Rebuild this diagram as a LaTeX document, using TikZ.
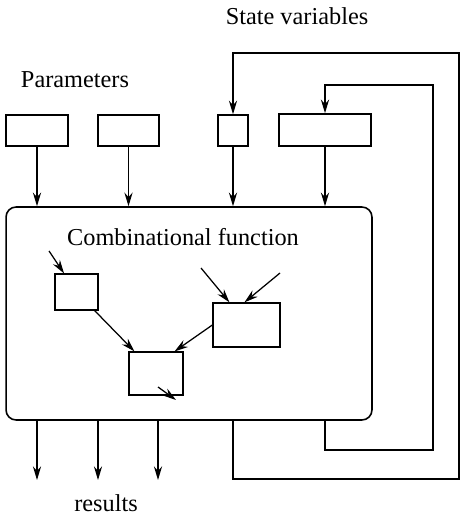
\documentclass[tikz,border=0pt]{standalone}
\usepackage{fontspec}
\setmainfont{Liberation Serif}
\usepackage{tikz}
\usetikzlibrary{arrows.meta, positioning}

\tikzset{
    blk/.style={rectangle, draw, line width=0.7pt, inner sep=0pt},
    wire/.style={line width=0.55pt},
    lbl/.style={font=\fontsize{10.7}{13}\selectfont},
    >={Stealth[length=6pt, width=3.6pt, inset=2pt]}
}

\begin{document}
\begin{tikzpicture}[x=0.44pt, y=-0.44pt]
    \useasboundingbox (0,0) rectangle (460,516);

    % Labels
    \node[lbl] (lstate) at (297,16) {State variables};
    \node[lbl] (lparam) at (75,80) {Parameters};
    \node[lbl] (lres) at (106,503) {results};

    % Parameter and state boxes
    \node[blk, minimum width=27.3pt, minimum height=13.6pt] (p1) at (37,130.5) {};
    \node[blk, minimum width=26.8pt, minimum height=13.6pt] (p2) at (128.5,130.5) {};
    \node[blk, minimum width=13.2pt, minimum height=13.6pt] (s1) at (233,130.5) {};
    \node[blk, minimum width=40.5pt, minimum height=14.1pt] (s2) at (325,130) {};

    % Combinational function
    \node[blk, rounded corners=4.4pt, minimum width=161pt, minimum height=93.7pt] (fn) at (189,313.5) {};
    \node[lbl] (lfn) at (183,237) {Combinational function};
    \node[blk, line width=0.55pt, minimum width=18.9pt, minimum height=15.8pt] (bA) at (76.5,292) {};
    \node[blk, line width=0.55pt, minimum width=29.5pt, minimum height=19.4pt] (bB) at (246.5,325) {};
    \node[blk, line width=0.55pt, minimum width=23.8pt, minimum height=18.9pt] (bC) at (156,373.5) {};

    % Free ends
    \coordinate (a0) at (49,251);
    \coordinate (b1) at (201,268);
    \coordinate (b2) at (280,273);
    \coordinate (c0) at (158,387);
    \coordinate (c1) at (176,400);
    \coordinate (r1) at (37,480);
    \coordinate (r2) at (98,480);
    \coordinate (r3) at (158,480);
    \coordinate (fb1a) at (459,479);
    \coordinate (fb1b) at (459,53);
    \coordinate (fb2a) at (433,450);
    \coordinate (fb2b) at (433,85);

    % Inputs
    \draw[wire, ->] (p1.south) -- (p1.south |- fn.north);
    \draw[wire, ->] (p2.south) -- (p2.south |- fn.north);
    \draw[wire, ->] (s1.south) -- (s1.south |- fn.north);
    \draw[wire, ->] (s2.south) -- (s2.south |- fn.north);

    % Inside the function
    \draw[wire, ->] (a0) -- (bA);
    \draw[wire, ->] (b1) -- (bB.127);
    \draw[wire, ->] (b2) -- (bB.95);
    \draw[wire, ->] (bA) -- (bC);
    \draw[wire, ->] (bB.west) -- (bC.50);
    \draw[wire, ->] (c0) -- (c1);

    % Results
    \draw[wire, ->] (fn.south -| r1) -- (r1);
    \draw[wire, ->] (fn.south -| r2) -- (r2);
    \draw[wire, ->] (fn.south -| r3) -- (r3);

    % Feedback of the state
    \draw[wire, ->] (fn.south -| s1) |- (fb1a) -- (fb1b) -| (s1.north);
    \draw[wire, ->] (fn.south -| s2) |- (fb2a) -- (fb2b) -| (s2.north);
\end{tikzpicture}
\end{document}
